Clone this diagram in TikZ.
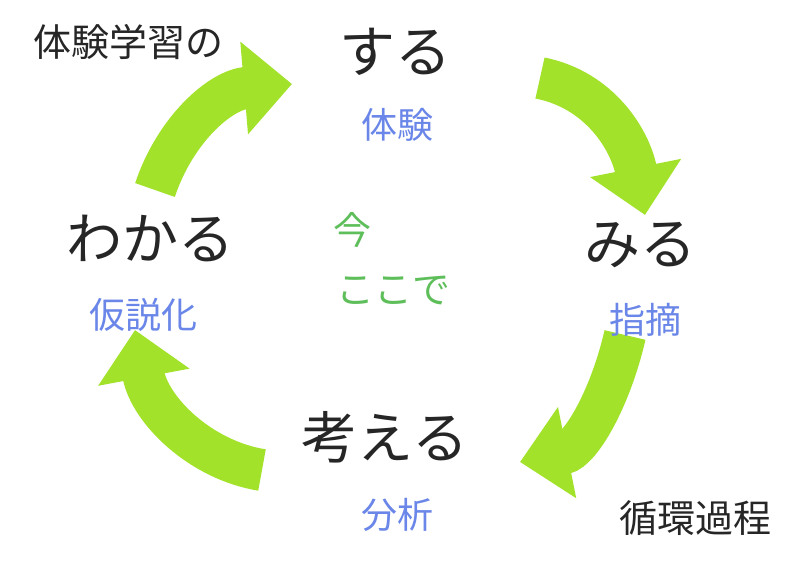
\documentclass[tikz,border=0pt]{standalone}
\usepackage{fontspec}
\setmainfont{Noto Sans CJK JP}
\usetikzlibrary{arrows.meta}
\definecolor{grn}{HTML}{A3E22A}
\definecolor{blu}{HTML}{6A86E8}
\definecolor{tgrn}{HTML}{5DBE5A}
\tikzset{
 cyc/.style={draw=grn,line width=42pt,-{Triangle[width=90pt,length=48pt]}},
 big/.style={font=\fontsize{56}{60}\selectfont,text=black!85},
 sub/.style={font=\fontsize{36}{40}\selectfont,text=blu},
 lab/.style={font=\fontsize{38}{42}\selectfont,text=black!85},
 cen/.style={font=\fontsize{38}{42}\selectfont,text=tgrn},
}
\begin{document}
\begin{tikzpicture}[x=1pt,y=-1pt]
\useasboundingbox[fill=white] (0,0) rectangle (800,566);
\coordinate (a1s) at (155,190); \coordinate (a1e) at (292,84);
\coordinate (a2s) at (540,78); \coordinate (a2e) at (645,215);
\coordinate (a3s) at (625,335); \coordinate (a3e) at (520,462);
\coordinate (a4s) at (262,470); \coordinate (a4e) at (135,330);
\draw[cyc] (a1s) .. controls (175,130) and (220,90) .. (a1e);
\draw[cyc] (a2s) .. controls (600,90) and (630,140) .. (a2e);
\draw[cyc] (a3s) .. controls (610,400) and (580,450) .. (a3e);
\draw[cyc] (a4s) .. controls (200,460) and (150,410) .. (a4e);
\node[lab] (t0) at (128,42) {体験学習の};
\node[big] (n1) at (395,52) {する};
\node[sub] (s1) at (397,125) {体験};
\node[big] (n2) at (640,245) {みる};
\node[sub] (s2) at (645,320) {指摘};
\node[big] (n3) at (385,437) {考える};
\node[sub] (s3) at (397,515) {分析};
\node[big] (n4) at (150,238) {わかる};
\node[sub] (s4) at (143,315) {仮説化};
\node[cen] (c1) at (352,230) {今};
\node[cen] (c2) at (393,290) {ここで};
\node[lab] (t1) at (695,518) {循環過程};
\end{tikzpicture}
\end{document}
